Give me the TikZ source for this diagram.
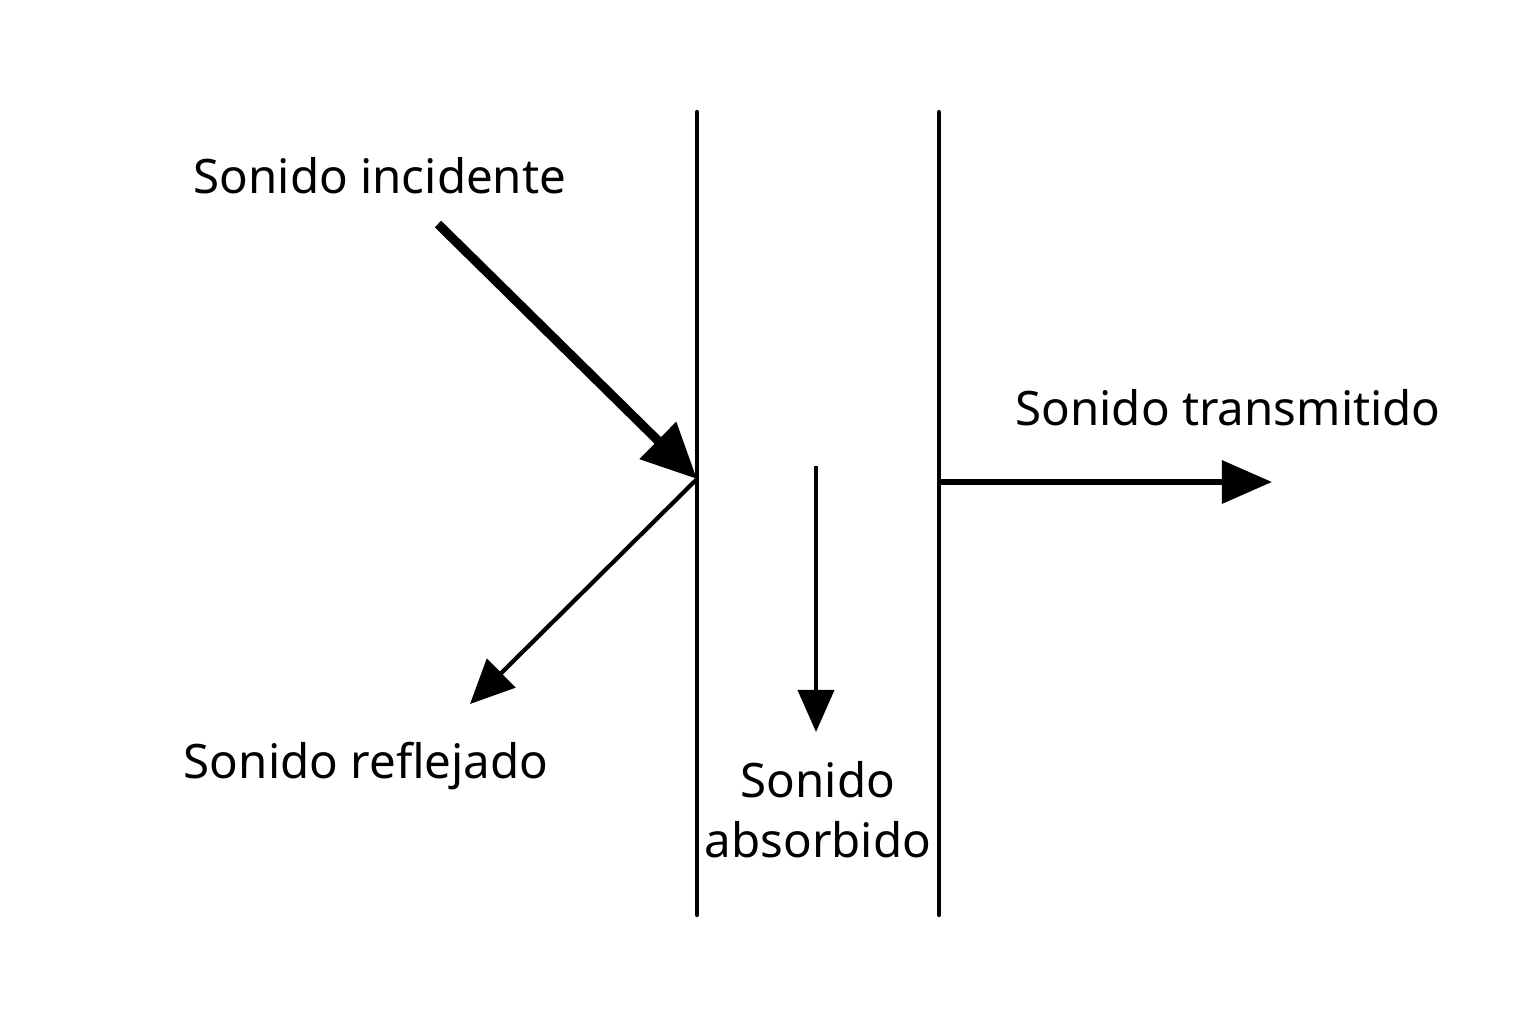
\documentclass[tikz,border=0pt]{standalone}
\usepackage{fontspec}
\setmainfont{Noto Sans}
\usetikzlibrary{arrows.meta}

\begin{document}
\begin{tikzpicture}[x=0.01cm, y=-0.01cm, >=Triangle,
  wall/.style={line width=1.2pt, line cap=round},
  label/.style={font=\fontsize{13.5pt}{17pt}\selectfont, align=center, inner sep=0pt}]

\useasboundingbox (0,0) rectangle (1536,1024);

% paredes
\coordinate (wall-1-top) at (697,112);
\coordinate (wall-1-bot) at (697,915);
\coordinate (wall-2-top) at (939,112);
\coordinate (wall-2-bot) at (939,915);
\draw [wall] (wall-1-top) -- (wall-1-bot);
\draw [wall] (wall-2-top) -- (wall-2-bot);

\coordinate (hit) at (697,479);
\coordinate (exit) at (939,482);

% flechas
\coordinate (inc-start) at (438,224);
\draw [line width=2.6pt, -{Triangle[length=0.55cm,width=0.5cm]}] (inc-start) -- (hit);

\coordinate (refl-end) at (470,704);
\draw [line width=1.2pt, -{Triangle[length=0.44cm,width=0.4cm]}] (hit) -- (refl-end);

\coordinate (abs-start) at (816,466);
\coordinate (abs-end) at (816,732);
\draw [line width=1.1pt, -{Triangle[length=0.42cm,width=0.36cm]}] (abs-start) -- (abs-end);

\coordinate (trans-end) at (1272,482);
\draw [line width=1.8pt, -{Triangle[length=0.5cm,width=0.42cm]}] (exit) -- (trans-end);

% textos
\node [label] (incidente) at (380,176) {Sonido incidente};
\node [label] (reflejado) at (366,766) {Sonido reflejado};
\node [label] (absorbido) at (818,810) {Sonido\\absorbido};
\node [label] (transmitido) at (1228,408) {Sonido transmitido};

\end{tikzpicture}
\end{document}
